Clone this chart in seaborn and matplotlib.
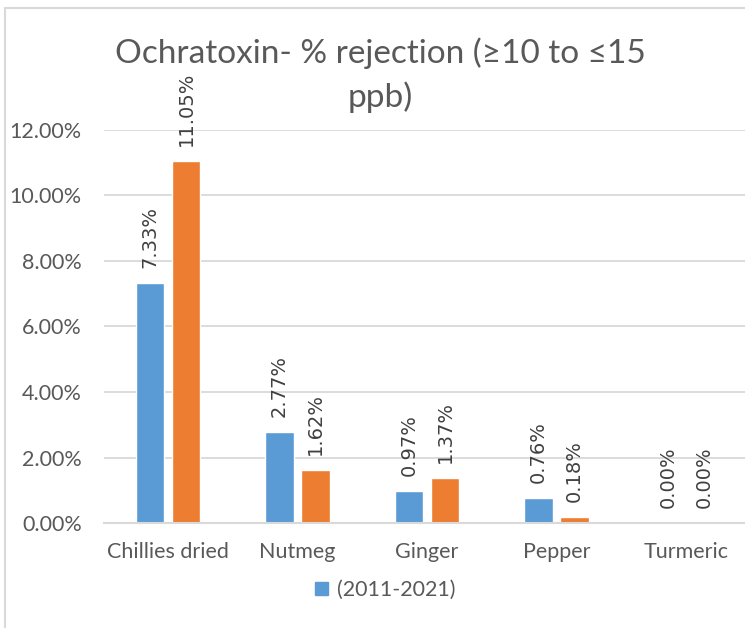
import numpy as np
import pandas as pd
import matplotlib
matplotlib.use('Agg')
import matplotlib.pyplot as plt
import matplotlib.patches as mpatches
import seaborn as sns

categories = ['Chillies dried', 'Nutmeg', 'Ginger', 'Pepper', 'Turmeric']
period_a = [7.33, 2.77, 0.97, 0.76, 0.00]
period_b = [11.05, 1.62, 1.37, 0.18, 0.00]
series_names = ['(2011-2021)', 'series 2']
y_ticks = [0, 2, 4, 6, 8, 10, 12]

title_lines = ['Ochratoxin- % rejection (≥10 to ≤15', 'ppb)']
colors = ['#5B9BD5', '#ED7D31']
text_color = '#595959'
grid_color = '#D9D9D9'

df = pd.DataFrame({
    'category': categories * 2,
    'value': [v / 100 for v in period_a + period_b],
    'series': [series_names[0]] * len(categories) + [series_names[1]] * len(categories),
})

sns.set_theme(style='white')
plt.rcParams['font.family'] = ['Lato', 'DejaVu Sans']

fig = plt.figure(figsize=(7.45, 6.28), dpi=100)
ax = fig.add_axes([104 / 745, 1 - 523 / 628, 1 - 104 / 745, (523 - 130) / 628])

# outer chart border like the Excel chart area
fig.patches.append(mpatches.Rectangle((5 / 745, -0.01), 1.0, 1 - 8 / 628 + 0.01,
                                      transform=fig.transFigure, fill=False,
                                      edgecolor=grid_color, linewidth=1.5))

sns.barplot(data=df, x='category', y='value', hue='series', palette=colors,
            width=0.56, gap=0.21, saturation=1, ax=ax, legend=False)

for cont in ax.containers:
    ax.bar_label(cont, labels=[f'{b.get_height():.2%}' for b in cont],
                 rotation=90, padding=11, fontsize=14, color='#404040',
                 family=['DejaVu Sans'])

ax.set_ylim(0, 0.12)
ax.set_xlim(-0.494, 4.456)
ax.set_yticks([t / 100 for t in y_ticks])
ax.set_yticklabels([f'{t:.2f}%' for t in y_ticks])
ax.yaxis.grid(True, color=grid_color, linewidth=1.3)
ax.set_axisbelow(True)
ax.tick_params(axis='both', length=0, labelsize=15.5, colors=text_color)
ax.tick_params(axis='y', pad=16)
ax.tick_params(axis='x', pad=14)
ax.set_xlabel('')
ax.set_ylabel('')
for s in ['top', 'right', 'left']:
    ax.spines[s].set_visible(False)
ax.spines['bottom'].set_color(grid_color)
ax.spines['bottom'].set_linewidth(1.5)

for line, base in zip(title_lines, [63, 107]):
    fig.text(380 / 745, 1 - base / 628, line, ha='center', va='baseline',
             fontsize=24, color=text_color)

handle = mpatches.Patch(color=colors[0], label=series_names[0])
fig.legend(handles=[handle], loc='center', bbox_to_anchor=(385 / 745, 1 - 590 / 628),
           frameon=False, fontsize=15.5, labelcolor=text_color,
           handlelength=0.6, handleheight=0.6, handletextpad=0.4)

fig.savefig('out.png', dpi=100)
